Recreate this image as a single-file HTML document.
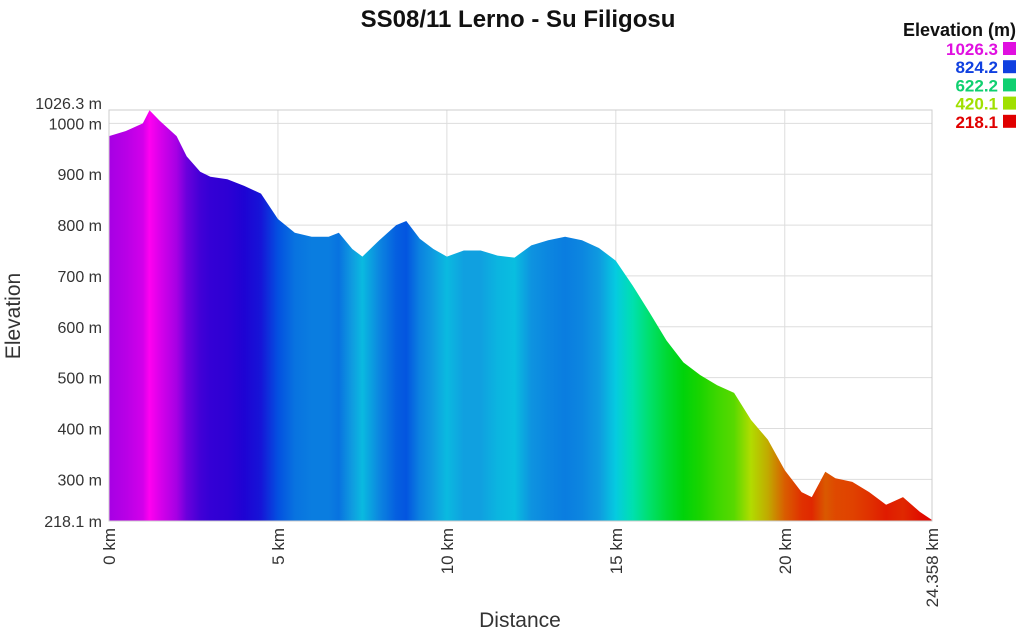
<!DOCTYPE html>
<html><head><meta charset="utf-8">
<style>
body{margin:0;background:#fff;font-family:"Liberation Sans",sans-serif;}
svg text{font-family:"Liberation Sans",sans-serif;}
</style></head>
<body>
<svg id="chart" width="1024" height="630" viewBox="0 0 1024 630" xmlns="http://www.w3.org/2000/svg">
<defs><linearGradient id="grad" x1="109" x2="932" y1="0" y2="0" gradientUnits="userSpaceOnUse"></linearGradient></defs>
<text x="518" y="27" text-anchor="middle" font-size="24" font-weight="bold" fill="#111">SS08/11 Lerno - Su Filigosu</text>
<g id="grid"></g>
<path id="area" fill="url(#grad)"></path>
<rect x="109" y="110" width="823" height="411" fill="none" stroke="#ccc"/>
<g id="yticks"></g>
<g id="xticks"></g>
<text transform="translate(20,316) rotate(-90)" text-anchor="middle" font-size="21" fill="#333">Elevation</text>
<text x="520" y="627" text-anchor="middle" font-size="21" fill="#333">Distance</text>
<g id="legend">
<text x="1016" y="36" text-anchor="end" font-size="18" font-weight="bold" fill="#111">Elevation (m)</text>
</g>
</svg>
<script>
const dist=[0,0.5,1.0,1.2,1.5,2.0,2.3,2.7,3.0,3.5,4.0,4.5,5.0,5.5,6.0,6.5,6.8,7.2,7.5,8.0,8.5,8.8,9.2,9.6,10.0,10.5,11.0,11.5,12.0,12.5,13.0,13.5,14.0,14.5,15.0,15.5,16.0,16.5,17.0,17.5,18.0,18.5,19.0,19.5,20.0,20.5,20.8,21.2,21.5,22.0,22.5,23.0,23.5,24.0,24.358];
const elev=[975,985,1000,1026,1005,975,935,905,895,890,877,862,812,785,777,777,785,753,738,770,800,808,773,753,738,750,750,740,736,760,770,777,770,755,730,681,628,573,530,505,485,470,417,378,318,275,265,315,302,295,275,250,265,236,220];
const yTicks=[300,400,500,600,700,800,900,1000];
const xTicks=[0,5,10,15,20];
const legendVals=[1026.3,824.2,622.2,420.1,218.1];
const legendCols=["#e010e0","#1040e0","#10d070","#a0e000","#e00000"];
const yMin=218.1,yMax=1026.3,xMax=24.358;
const X=d=>109+d/xMax*823, Y=e=>521-(e-yMin)/(yMax-yMin)*411;
const NS="http://www.w3.org/2000/svg";
function mk(t,a,p){const e=document.createElementNS(NS,t);for(const k in a)e.setAttribute(k,a[k]);p.appendChild(e);return e;}
const cs=[[218,[224,0,0]],[300,[224,70,0]],[420,[176,224,0]],[520,[0,210,0]],[622,[0,224,100]],[720,[0,224,224]],[750,[16,160,224]],[824,[0,64,224]],[880,[32,0,210]],[960,[140,0,224]],[1026,[255,0,240]]];
function col(e){for(let i=1;i<cs.length;i++){if(e<=cs[i][0]){const a=cs[i-1],b=cs[i],t=(e-a[0])/(b[0]-a[0]);return "rgb("+a[1].map((v,j)=>Math.round(v+(b[1][j]-v)*t)).join(",")+")";}}return "rgb(255,0,240)";}
const grad=document.getElementById('grad');
dist.forEach((d,i)=>{const s=mk('stop',{offset:(d/xMax).toFixed(4),'stop-color':col(elev[i])},grad);

});
let p="M"+X(0)+","+Y(yMin);dist.forEach((d,i)=>p+=" L"+X(d).toFixed(1)+","+Y(elev[i]).toFixed(1));p+=" L"+X(xMax)+","+Y(yMin)+"Z";
document.getElementById('area').setAttribute('d',p);
const g=document.getElementById('grid'),yt=document.getElementById('yticks'),xt=document.getElementById('xticks');
yTicks.forEach(v=>{const l=mk('line',{x1:109,x2:932,y1:Y(v),y2:Y(v),stroke:'#ddd'},g);


const t=mk('text',{x:102,y:Y(v)+6,'text-anchor':'end','font-size':16,fill:'#333'},yt);t.textContent=v+" m";

});
[[yMax,"1026.3 m",-1],[yMin,"218.1 m",6]].forEach(([v,s,o])=>{const t=mk('text',{x:102,y:Y(v)+o,'text-anchor':'end','font-size':16,fill:'#333'},yt);t.textContent=s;

});
xTicks.concat([xMax]).forEach(v=>{if(v>0&&v<xMax){const l=mk('line',{x1:X(v),x2:X(v),y1:110,y2:521,stroke:'#ddd'},g);

}
const t=mk('text',{transform:`translate(${X(v)+6},528) rotate(-90)`,'text-anchor':'end','font-size':17,fill:'#333'},xt);t.textContent=(v===xMax?"24.358":v)+" km";

});
const lg=document.getElementById('legend');
legendVals.forEach((v,i)=>{const y=49+i*18.2;const t=mk('text',{x:998,y:y+6,'text-anchor':'end','font-size':17,'font-weight':'bold',fill:legendCols[i]},lg);t.textContent=v.toFixed(1);


const r=mk('rect',{x:1003,y:y-7,width:13,height:13,fill:legendCols[i]},lg);

});
</script>
</body></html>
